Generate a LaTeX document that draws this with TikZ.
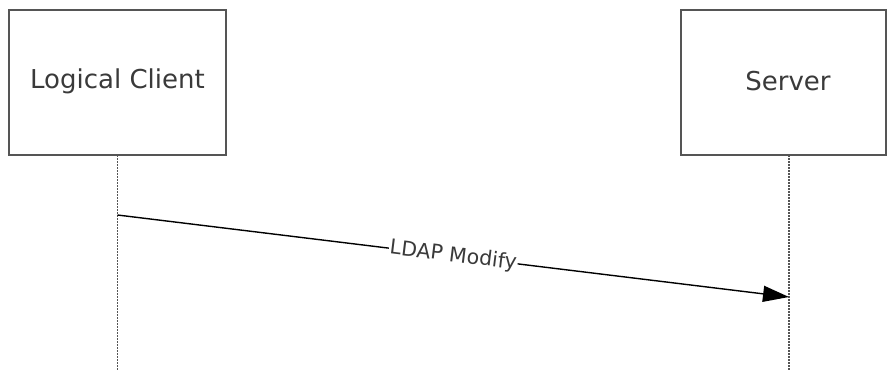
\documentclass[tikz,border=0pt]{standalone}
\usepackage{fontspec}
\setmainfont{DejaVu Sans}
\usetikzlibrary{arrows.meta}
\definecolor{boxline}{HTML}{555555}
\definecolor{txt}{HTML}{3A3A3A}
\tikzset{
  actor/.style={draw=boxline, line width=1.6pt, fill=white, inner sep=0pt, text=txt, font=\fontsize{26}{30}\selectfont},
  lifeline/.style={draw=boxline, line width=1.2pt, dash pattern=on 1.5pt off 1.5pt},
  msg/.style={draw=black, line width=1.4pt, -{Triangle[length=26pt,width=16pt]}},
  msglabel/.style={fill=white, inner sep=1pt, text=txt, font=\fontsize{20.5}{24}\selectfont, sloped}
}
\begin{document}
\begin{tikzpicture}[x=1pt,y=-1pt]
\useasboundingbox (0,0) rectangle (887,370);
\draw[actor] (9,10) rectangle (226,155);
\node[text=txt, font=\fontsize{26}{30}\selectfont] (client) at (117.5,81) {Logical Client};
\draw[actor] (681,10) rectangle (886,155);
\node[text=txt, font=\fontsize{26}{30}\selectfont] (server) at (788,81) {Server};
\coordinate (cb) at (117.5,155);
\coordinate (ce) at (117.5,370);
\coordinate (sb) at (789,155);
\coordinate (se) at (789,370);
\draw[lifeline] (cb) -- (ce);
\draw[lifeline] (sb) -- (se);
\coordinate (m1) at (117.5,215);
\coordinate (m2) at (789,297);
\draw[msg] (m1) -- node[msglabel] (lbl) {LDAP Modify} (m2);
\end{tikzpicture}
\end{document}
